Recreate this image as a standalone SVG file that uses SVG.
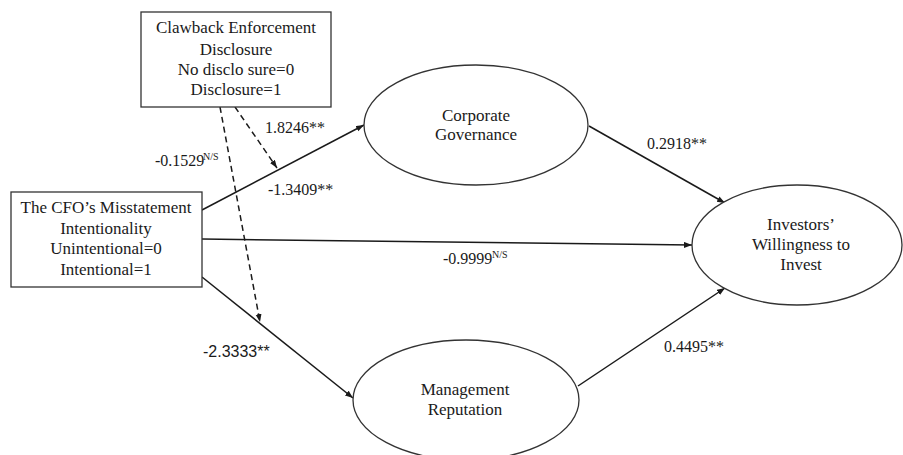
<svg xmlns="http://www.w3.org/2000/svg" width="903" height="455" viewBox="0 0 903 455">
  <style>
    .node rect, .node ellipse { fill: #ffffff; stroke: #333333; stroke-width: 1.3; }
    .t { font-family: "Liberation Serif", "Times New Roman", serif; font-size: 17px; fill: #1a1a1a; text-anchor: middle; }
    .lbl { font-family: "Liberation Serif", "Times New Roman", serif; font-size: 16px; fill: #1a1a1a; }
    .lbls { font-family: "Liberation Sans", Arial, sans-serif; font-size: 16px; fill: #1a1a1a; }
    .sup { font-family: "Liberation Serif", "Times New Roman", serif; font-size: 10px; fill: #1a1a1a; }
    .edge { stroke: #1a1a1a; stroke-width: 1.5; fill: none; marker-end: url(#arrow); }
    .dash { stroke: #1a1a1a; stroke-width: 1.5; fill: none; stroke-dasharray: 6 4; marker-end: url(#arrow); }
  </style>
  <defs>
    <marker id="arrow" markerUnits="userSpaceOnUse" markerWidth="9" markerHeight="7" refX="8" refY="3" orient="auto">
      <path d="M0,0 L8,3 L0,6 z" fill="#1a1a1a"/>
    </marker>
  </defs>
  <rect width="903" height="455" fill="#ffffff"/>

  <g id="connectors">
    <line class="edge" x1="202" y1="210" x2="364" y2="125"/>
    <line class="edge" x1="202" y1="239" x2="692" y2="245"/>
    <line class="edge" x1="202" y1="277" x2="353" y2="398"/>
    <line class="edge" x1="589" y1="126" x2="725" y2="203"/>
    <line class="edge" x1="578" y1="386" x2="725" y2="288"/>
    <line class="dash" x1="220" y1="107" x2="260" y2="322"/>
    <line class="dash" x1="235" y1="107" x2="277" y2="168"/>
  </g>

  <g id="labels">
    <text class="lbl" x="265" y="133">1.8246**</text>
    <text class="lbl" x="155" y="166">-0.1529</text>
    <text class="sup" x="203" y="160">N/S</text>
    <text class="lbl" x="268" y="195">-1.3409**</text>
    <text class="lbl" x="443" y="264">-0.9999</text>
    <text class="sup" x="492" y="258">N/S</text>
    <text class="lbls" x="203" y="357">-2.3333**</text>
    <text class="lbl" x="647" y="149">0.2918**</text>
    <text class="lbl" x="664" y="352">0.4495**</text>
  </g>

  <g id="clawback" class="node">
    <rect x="141" y="12" width="190" height="95"/>
    <text class="t" x="236" y="33">Clawback Enforcement</text>
    <text class="t" x="236" y="55">Disclosure</text>
    <text class="t" x="236" y="75">No disclo sure=0</text>
    <text class="t" x="236" y="95">Disclosure=1</text>
  </g>

  <g id="cfo" class="node">
    <rect x="11" y="192" width="191" height="95"/>
    <text class="t" x="106" y="213">The CFO’s Misstatement</text>
    <text class="t" x="106" y="234">Intentionality</text>
    <text class="t" x="106" y="254">Unintentional=0</text>
    <text class="t" x="106" y="275">Intentional=1</text>
  </g>

  <g id="corporate-governance" class="node">
    <ellipse cx="476" cy="125" rx="112" ry="60"/>
    <text class="t" x="476" y="121">Corporate</text>
    <text class="t" x="476" y="140">Governance</text>
  </g>

  <g id="investors-willingness" class="node">
    <ellipse cx="797" cy="245" rx="105" ry="60"/>
    <text class="t" x="801" y="230">Investors’</text>
    <text class="t" x="801" y="250">Willingness to</text>
    <text class="t" x="801" y="270">Invest</text>
  </g>

  <g id="management-reputation" class="node">
    <ellipse cx="466" cy="400" rx="113" ry="60"/>
    <text class="t" x="465" y="395">Management</text>
    <text class="t" x="465" y="415">Reputation</text>
  </g>
</svg>
